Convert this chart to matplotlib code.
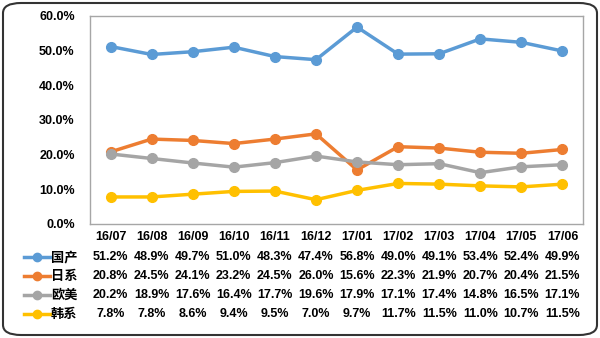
import matplotlib.pyplot as plt
from matplotlib.patches import FancyBboxPatch
from matplotlib.lines import Line2D
from matplotlib.ticker import PercentFormatter

months = ["16/07", "16/08", "16/09", "16/10", "16/11", "16/12",
          "17/01", "17/02", "17/03", "17/04", "17/05", "17/06"]
names = ["国产", "日系", "欧美", "韩系"]
domestic = [51.2, 48.9, 49.7, 51.0, 48.3, 47.4, 56.8, 49.0, 49.1, 53.4, 52.4, 49.9]
japan = [20.8, 24.5, 24.1, 23.2, 24.5, 26.0, 15.6, 22.3, 21.9, 20.7, 20.4, 21.5]
euro_us = [20.2, 18.9, 17.6, 16.4, 17.7, 19.6, 17.9, 17.1, 17.4, 14.8, 16.5, 17.1]
korea = [7.8, 7.8, 8.6, 9.4, 9.5, 7.0, 9.7, 11.7, 11.5, 11.0, 10.7, 11.5]
series = [domestic, japan, euro_us, korea]
colors = ["#5B9BD5", "#ED7D31", "#A5A5A5", "#FFC000"]

plt.rcParams["font.family"] = ["Liberation Sans", "Noto Sans CJK SC", "DejaVu Sans"]
plt.rcParams["font.weight"] = "bold"

W, H = 600, 338
fig = plt.figure(figsize=(6, 3.38), dpi=100)
ax = fig.add_axes([90 / W, 1 - 224 / H, (583 - 90) / W, (224 - 16) / H])

x = list(range(len(months)))
for vals, c in zip(series, colors):
    ax.plot(x, vals, color=c, lw=2.5, marker="o", ms=7, solid_capstyle="round")

ax.set_xlim(-0.5, len(months) - 0.5)
ax.set_ylim(0, 60)
ax.set_yticks(range(0, 61, 10))
ax.yaxis.set_major_formatter(PercentFormatter(decimals=1))
ax.set_xticks(x)
ax.set_xticklabels(months)
ax.tick_params(length=0, labelsize=9, pad=5)
ax.tick_params(axis="y", pad=11)
for s in ax.spines.values():
    s.set_color("#A6A6A6")
    s.set_linewidth(1.0)

# data table under the axis
row_y = [257, 276, 295, 314]
for vals, name, c, ry in zip(series, names, colors, row_y):
    yf = 1 - ry / H
    fig.add_artist(Line2D([24 / W, 37 / W, 50 / W], [yf, yf, yf], color=c, lw=2.5,
                          marker="o", markevery=[1], ms=6,
                          transform=fig.transFigure))
    fig.text(51 / W, yf, name, ha="left", va="center", fontsize=9.5,
             family=["Noto Sans CJK SC", "DejaVu Sans"], fontweight="bold")
    for i, v in enumerate(vals):
        xf = fig.transFigure.inverted().transform(ax.transData.transform((i, 0)))[0]
        fig.text(xf, yf, f"{v:.1f}%", ha="center", va="center", fontsize=9,
                 fontweight="bold")

frame = FancyBboxPatch((3 / W, 3 / H), 594 / W, 332 / H,
                       boxstyle="round,pad=0,rounding_size=0.03",
                       transform=fig.transFigure, fill=False,
                       edgecolor="#333333", lw=1.5)
fig.add_artist(frame)

fig.savefig("out.png", dpi=100)
